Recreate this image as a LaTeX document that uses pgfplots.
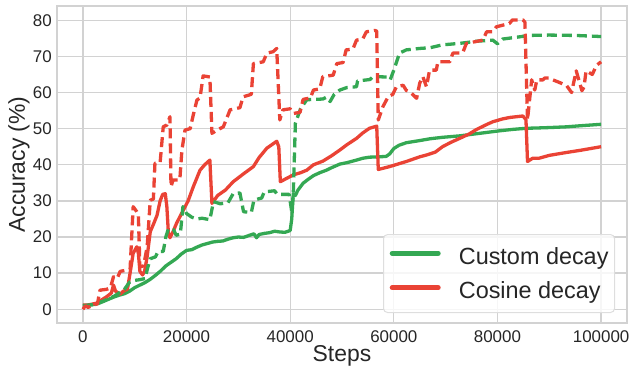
\documentclass[border=0pt]{standalone}
\usepackage{fontspec}
\setmainfont{Liberation Sans}
\usepackage{pgfplots}
\pgfplotsset{compat=1.18}
\definecolor{cgreen}{HTML}{34A853}
\definecolor{cred}{HTML}{EA4335}
\definecolor{gridgray}{HTML}{D2D2D2}
\definecolor{txt}{HTML}{262626}
\begin{document}
\begin{tikzpicture}
\begin{axis}[
 width=570bp, height=317bp, scale only axis,
 xmin=-5000, xmax=105000, ymin=-3.8, ymax=83.95,
 xtick={0,20000,40000,60000,80000,100000},
 xticklabels={0,20000,40000,60000,80000,100000},
 ytick={0,10,20,30,40,50,60,70,80},
 yticklabels={0,10,20,30,40,50,60,70,80},
 scaled x ticks=false,
 grid=major, grid style={draw=gridgray, line width=1.3bp},
 axis line style={draw=gridgray, line width=1.5bp},
 major tick length=0pt,
 tick label style={font=\fontsize{17}{17}\selectfont, text=txt},
 xticklabel style={inner sep=0pt, anchor=north, yshift=-7bp},
 yticklabel style={inner sep=0pt, anchor=east, xshift=-5bp},
 legend style={
  at={(1,0)}, anchor=south east, xshift=-12bp, yshift=10bp,
  draw=black!13, line width=1bp, rounded corners=4bp,
  fill=white, fill opacity=0.8, text opacity=1,
  font=\fontsize{23.5}{23.5}\selectfont, text=txt,
  inner xsep=4bp, inner ysep=10.5bp,
  row sep=12bp, column sep=0bp,
  nodes={inner sep=2bp},
 },
 legend cell align=left,
 legend image code/.code={
  \draw[#1, line width=5bp, line cap=round, solid] (3bp,3bp) -- (49bp,3bp);
  \path (0bp,0bp) (66bp,0bp);
 },
 every axis plot/.append style={line width=3.3bp, line join=round},
]
% Custom decay, solid
\addplot[cgreen] coordinates {
(0,1.0) (1000,1.1) (2000,1.3) (3000,1.6) (4000,2.2) (5000,2.8) (6000,3.4) (7000,3.9) (8000,4.3) (9000,5.0) (10000,6.0) (11000,6.7) (12000,7.4) (13000,8.3) (14000,9.4) (15000,10.6) (16000,12.0) (17000,13.0) (18000,14.0) (19000,15.3) (20000,16.3) (21000,16.5) (22000,17.2) (23000,17.8) (24000,18.2) (25000,18.6) (26000,18.8) (27000,18.9) (28000,19.4) (29000,19.8) (30000,20.0) (31000,19.9) (32000,20.4) (33000,20.9) (33500,19.8) (34000,20.7) (35000,21.0) (36000,21.2) (37000,21.6) (38000,21.4) (39000,21.3) (40000,21.8) (40300,25) (40600,32.0) (41000,31.5) (41500,33) (42500,34.9) (43500,36.0) (44500,37.0) (45700,37.8) (47000,38.5) (48000,39.2) (49600,40.2) (51000,40.6) (52800,41.3) (54000,41.8) (55300,42.1) (57000,42.2) (58500,42.3) (59200,43.0) (60000,44.5) (61000,45.4) (62400,46.1) (65000,46.7) (67000,47.2) (69400,47.6) (72700,48.0) (76000,48.6) (80400,49.4) (83000,49.8) (85600,50.1) (88000,50.2) (90000,50.3) (93300,50.5) (96000,50.8) (100000,51.2)
};
\addlegendentry{Custom decay}
% Cosine decay, solid
\addplot[cred] coordinates {
(0,1.2) (1000,1.2) (2700,1.7) (3500,2.5) (4600,3.5) (5500,4.5) (5900,6.7) (6300,5.0) (7200,4.2) (7800,5.0) (8600,5.6) (9100,10.0) (9700,15.5) (10400,17.3) (10700,15.5) (11000,10.5) (11500,9.5) (11900,10.5) (12400,14.6) (13000,21.5) (13600,23.5) (14300,26.0) (14900,30.0) (15400,31.8) (15900,32.0) (16200,28.4) (16500,21.0) (16800,19.8) (17400,21.5) (18100,23.9) (19400,27.5) (20300,30.0) (21300,33.9) (22600,38.5) (23500,40.0) (24500,41.3) (24900,29.3) (26000,31.5) (27500,33.0) (29000,35.3) (31000,37.5) (32900,39.5) (34000,42.0) (35500,44.6) (37400,46.5) (37800,45) (38100,35.3) (39000,36.0) (40600,37.2) (42000,37.8) (43200,38.5) (44500,40.0) (46300,41.0) (48000,42.5) (49600,44.1) (51000,45.6) (52800,47.3) (54000,48.8) (55300,50.1) (56700,50.7) (57000,38.7) (59200,39.5) (62400,40.9) (65000,42.2) (66300,42.7) (68000,43.5) (69400,45.0) (71000,46.2) (72700,47.3) (74500,48.5) (76000,49.8) (78000,51.2) (79100,51.9) (81000,52.7) (82400,53.1) (84900,53.5) (85500,52.5) (85800,40.9) (86800,41.8) (88000,41.8) (90000,42.6) (93300,43.4) (96000,44.0) (98000,44.5) (100000,45.0)
};
\addlegendentry{Cosine decay}
% Custom decay, dashed
\addplot[cgreen, dash pattern=on 10bp off 5bp, forget plot] coordinates {
(0,1.0) (2000,1.3) (4000,2.3) (6000,3.6) (8000,5.5) (9000,7.5) (10000,8.0) (11000,8.2) (12000,8.5) (12500,11.5) (13000,14) (14000,14.5) (14500,16.0) (15500,16) (16000,20.0) (16500,22.3) (17500,22.0) (18000,20.5) (18800,20.8) (19300,28.4) (20000,26.5) (21000,25.5) (22000,25.0) (23000,25.2) (24500,24.8) (25200,29.8) (26500,29.2) (28000,29.5) (29000,32.0) (30300,32.2) (31000,27.0) (32500,26.8) (33000,30.2) (34500,30.8) (35000,32.5) (37000,32.8) (37500,31.8) (39800,31.8) (40300,27) (40600,32) (41000,51.5) (42000,55.5) (43200,58.0) (46300,58.2) (47000,58.7) (47700,57.5) (48500,59.5) (49600,60.7) (51000,61.4) (52800,61.6) (53000,63.2) (55400,63.6) (56000,64.4) (58600,64.3) (59300,63.5) (60000,66.2) (61100,70.9) (62400,71.8) (65000,72.2) (67000,72.4) (69400,73.2) (72700,73.6) (76000,74.2) (79100,74.5) (80000,73.5) (81000,74.8) (84200,75.4) (86000,75.8) (90000,75.9) (95000,75.8) (100000,75.5)
};
% Cosine decay, dashed
\addplot[cred, dash pattern=on 10bp off 5bp, forget plot] coordinates {
(0,0) (500,1) (1000,0.5) (2000,1.2) (2800,1.5) (3300,5.3) (4500,5.5) (5300,5.9) (5900,9.0) (6600,8.5) (7200,10.5) (9100,11.0) (9700,28.4) (10400,27.0) (10700,26.0) (11000,11.8) (11700,12.0) (12400,17.3) (13000,30.2) (13600,30.5) (13900,40.4) (14900,40.6) (15500,50.5) (16200,51.0) (16800,53.3) (17000,33.9) (17400,35.8) (18700,35.8) (19100,44) (19700,49.6) (20700,50.0) (21300,53.8) (22000,57.9) (22600,58.5) (23200,64.6) (24500,64.3) (24900,48.7) (25900,49.6) (27100,50.5) (28400,55.2) (30300,55.8) (30900,58.8) (32500,59.5) (32900,68.0) (34800,68.5) (35500,70.9) (36700,71.3) (37400,72.2) (38000,52.4) (38600,55.2) (40000,55.5) (40600,54.2) (41900,54.5) (42500,58.1) (43900,58.5) (44500,60.7) (45700,61) (46300,64.4) (48300,64.8) (49000,68.0) (50200,68.3) (50800,71.8) (52100,72.0) (52800,74.5) (54000,74.8) (54700,76.8) (56300,77.2) (56700,77.0) (57000,52.4) (57900,56.1) (58900,58.8) (59800,59.5) (60500,61.6) (61800,62.0) (62400,60.6) (63100,60.2) (64400,58.4) (65000,62.6) (65600,64.4) (66300,61.6) (66900,66.2) (68200,66.2) (68500,68.5) (70800,68.5) (71400,70.9) (73300,71.0) (74000,73.6) (77200,74.5) (77900,76.8) (79100,76.8) (79800,78.2) (82300,79.1) (82900,80.1) (84900,80.1) (85300,79.5) (85800,52.4) (86600,63.5) (87200,60.7) (87600,63.5) (88800,63.5) (89100,64) (90000,64) (90700,63.5) (93300,62) (94300,60) (95200,66) (95800,63) (96300,60.5) (96700,61.5) (97100,66) (98300,65) (99100,67.5) (100000,68.5)
};
\end{axis}
\node[anchor=base, font=\fontsize{23}{23}\selectfont, text=txt] at ([yshift=-38bp]current axis.south) {Steps};
\node[rotate=90, anchor=base, font=\fontsize{23}{23}\selectfont, text=txt] at ([xshift=-32bp]current axis.west) {Accuracy (\%)};
\pgfresetboundingbox
\useasboundingbox ([xshift=-57bp,yshift=-43bp]current axis.south west) rectangle ([xshift=2bp,yshift=6bp]current axis.north east);
\end{tikzpicture}
\end{document}
